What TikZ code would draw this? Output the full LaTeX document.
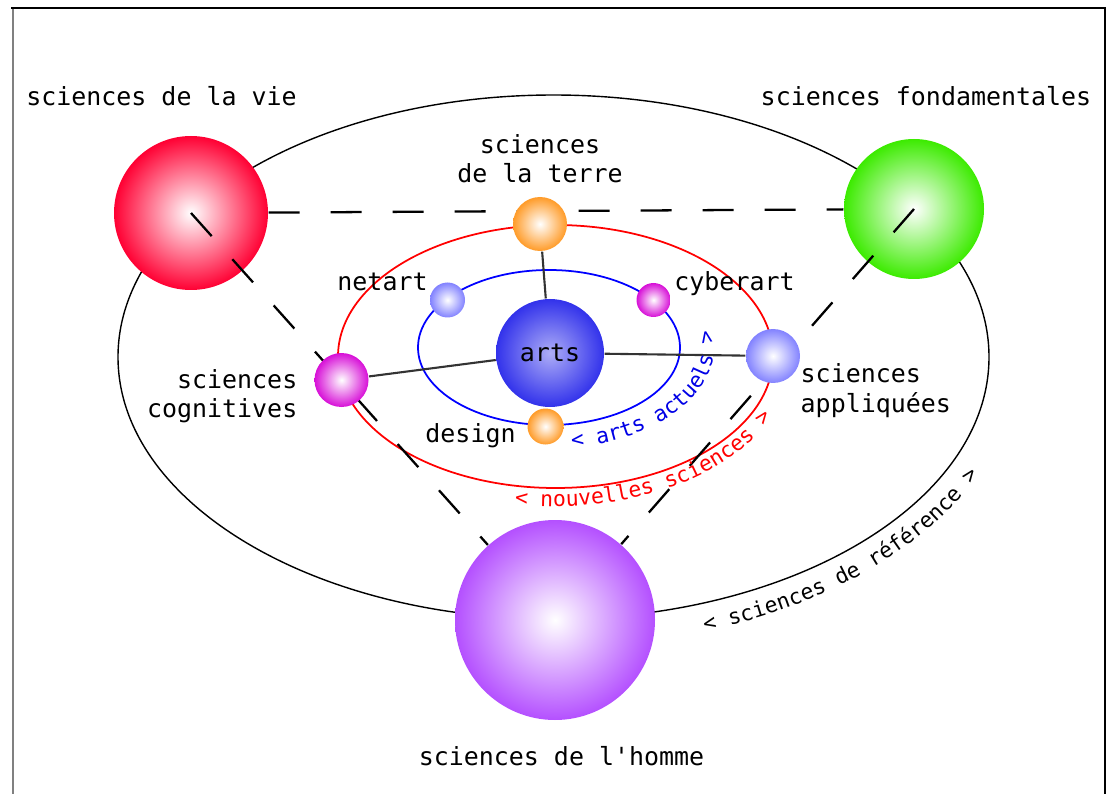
\documentclass[tikz,border=0pt]{standalone}
\usepackage{fontspec}
\setmainfont{DejaVu Sans Mono}
\usetikzlibrary{decorations.text}

\definecolor{vieRed}{RGB}{255,0,51}
\definecolor{fondGreen}{RGB}{60,235,0}
\definecolor{hommeViolet}{RGB}{180,80,255}
\definecolor{terreOrange}{RGB}{255,155,40}
\definecolor{artsBlue}{RGB}{50,50,235}
\definecolor{lightBlue}{RGB}{130,130,255}
\definecolor{cyberMagenta}{RGB}{215,15,215}
\definecolor{orbitBlue}{RGB}{0,0,230}

\newcommand\labelfont{\fontsize{7.1}{8.5}\selectfont}
\newcommand\orbitfont{\fontsize{6.1}{7}\selectfont}

\begin{document}
\begin{tikzpicture}[
    ball_style/.style={circle, inner sep=0pt, inner color=white, outer color=#1},
    dash_style/.style={line width=0.65pt, dash pattern=on 0.31cm off 0.31cm},
    link_style/.style={line width=0.6pt, black!80},
    orbit_style/.style={line width=0.5pt},
    label_style/.style={font=\labelfont, inner sep=0pt}
]
\useasboundingbox (0,0) rectangle (11.11,-7.94);
% cadre
\draw[line width=0.85pt, black!50] (0.13,-7.94) -- (0.13,-0.08);
\draw[line width=0.6pt] (0.11,-0.08) -- (11.05,-0.08) -- (11.05,-7.94);
% orbites
\draw[orbit_style, line width=0.4pt] (5.535,-3.57) ellipse (4.355 and 2.62);
\draw[orbit_style, red] (5.555,-3.565) ellipse (2.175 and 1.315);
\draw[orbit_style, blue] (5.49,-3.475) ellipse (1.31 and 0.775);
% sciences de reference
\node[ball_style=vieRed, minimum size=1.54cm] (vie) at (1.91,-2.13) {};
\node[ball_style=fondGreen, minimum size=1.40cm] (fond) at (9.14,-2.09) {};
\node[ball_style=hommeViolet, minimum size=2.0cm] (homme) at (5.55,-6.20) {};
\draw[dash_style] (vie) -- (fond);
\draw[dash_style] (vie.center) -- (homme);
\draw[dash_style] (fond.center) -- (homme);
% nouvelles sciences et arts actuels
\node[ball_style=terreOrange, minimum size=0.54cm] (terre) at (5.40,-2.24) {};
\node[ball_style=cyberMagenta, minimum size=0.54cm] (cogn) at (3.415,-3.80) {};
\node[ball_style=lightBlue, minimum size=0.54cm] (appl) at (7.73,-3.56) {};
\node[ball_style=artsBlue, inner color=artsBlue!40!white, minimum size=1.08cm, font=\labelfont] (arts) at (5.50,-3.53) {arts};
\node[ball_style=lightBlue, minimum size=0.35cm] (netart) at (4.475,-3.00) {};
\node[ball_style=cyberMagenta, minimum size=0.34cm] (cyber) at (6.535,-3.00) {};
\node[ball_style=terreOrange, minimum size=0.36cm] (design) at (5.455,-4.265) {};
\draw[link_style] (terre) -- (arts);
\draw[link_style] (cogn) -- (arts);
\draw[link_style] (arts) -- (appl);
% textes
\node[label_style, anchor=base] (vie_txt) at (1.615,-1.06) {sciences de la vie};
\node[label_style, anchor=base] (fond_txt) at (9.26,-1.06) {sciences fondamentales};
\node[label_style, anchor=base, align=center] (terre_txt) at (5.40,-1.83) {sciences\\de la terre};
\node[label_style, anchor=base] (netart_txt) at (3.825,-2.90) {netart};
\node[label_style, anchor=base] (cyber_txt) at (7.345,-2.90) {cyberart};
\node[label_style, anchor=base] (design_txt) at (4.705,-4.42) {design};
\node[label_style, anchor=base east, align=right] (cogn_txt) at (2.98,-4.18) {sciences\\cognitives};
\node[label_style, anchor=base west, align=left] (appl_txt) at (8.00,-4.12) {sciences\\appliquées};
\node[label_style, anchor=base] (homme_txt) at (5.615,-7.65) {sciences de l\textquotesingle homme};
% textes des orbites
\path[decorate, decoration={text along path, text={|\orbitfont\color{orbitBlue}|< arts actuels >}}, shift={(5.49,-3.475)}]
    (-82:1.65 and 1.01) arc[start angle=-82, end angle=40, x radius=1.65, y radius=1.01];
\path[decorate, decoration={text along path, text={|\orbitfont\color{red}|< nouvelles sciences >}}, shift={(5.555,-3.565)}]
    (-100:2.36 and 1.50) arc[start angle=-100, end angle=10, x radius=2.36, y radius=1.50];
\path[decorate, decoration={text along path, text={|\orbitfont|< sciences de référence >}}, shift={(5.535,-3.57)}]
    (-71:4.65 and 2.90) arc[start angle=-71, end angle=0, x radius=4.65, y radius=2.90];
\end{tikzpicture}
\end{document}
